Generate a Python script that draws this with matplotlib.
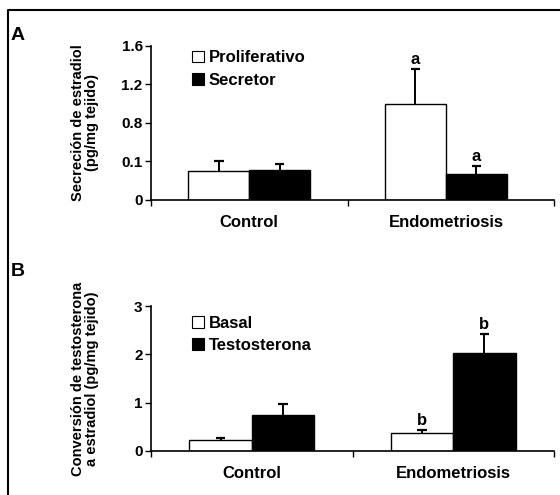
import numpy as np
import matplotlib
matplotlib.use('Agg')
import matplotlib.pyplot as plt
from matplotlib.lines import Line2D
from matplotlib.patches import Patch

plt.rcParams['font.family'] = ['Liberation Sans', 'DejaVu Sans']
plt.rcParams['font.weight'] = 'bold'

groups = ['Control', 'Endometriosis']

# panel A
a_series = ['Proliferativo', 'Secretor']
a_vals = [[0.30, 1.00], [0.31, 0.27]]
a_err = [[0.10, 0.36], [0.06, 0.08]]
a_marks = [['', 'a'], ['', 'a']]
a_ticks = [0, 0.4, 0.8, 1.2, 1.6]
a_ticklabels = ['0', '0.1', '0.8', '1.2', '1.6']

# panel B
b_series = ['Basal', 'Testosterona']
b_vals = [[0.23, 0.37], [0.75, 2.03]]
b_err = [[0.03, 0.06], [0.22, 0.39]]
b_marks = [['', 'b'], ['', 'b']]
b_ticks = [0, 1, 2, 3]

fig = plt.figure(figsize=(5.6, 4.95), dpi=100)

def panel(rect, series, vals, errs, marks, ticks, ticklabels, ylim, xright, ylabel, legpos):
    ax = fig.add_axes(rect)
    x = np.arange(len(groups))
    w = 0.31
    colors = ['white', 'black']
    for i in range(len(series)):
        xs = x + (i - 0.5) * w
        top = np.array(vals[i]) + np.array(errs[i])
        ax.vlines(xs, vals[i], top, color='black', linewidth=1.4, zorder=1)
        ax.hlines(top, xs - 0.024, xs + 0.024, color='black', linewidth=1.6, zorder=1)
        ax.bar(xs, vals[i], w, color=colors[i], edgecolor='black', linewidth=1, label=series[i], zorder=2)
        for j in range(len(groups)):
            if marks[i][j]:
                ax.text(xs[j], top[j] + ylim * 0.015, marks[i][j],
                        ha='center', va='bottom', fontsize=12, fontweight='bold')
    ax.set_xlim(-0.5, xright)
    ax.set_ylim(0, ylim)
    ax.set_yticks(ticks)
    ax.set_yticklabels(ticklabels, fontsize=11, fontweight='bold')
    ax.set_xticks([-0.5, 0.5, xright])
    ax.set_xticklabels([])
    ax.tick_params(axis='x', direction='out', length=4, width=1)
    ax.tick_params(axis='y', direction='out', length=4, width=1, pad=2)
    for s in ['top', 'right']:
        ax.spines[s].set_visible(False)
    for s in ['left', 'bottom']:
        ax.spines[s].set_linewidth(1.2)
    for j, g in enumerate(groups):
        ax.text(x[j], -ylim * 0.1, g, ha='center', va='top', fontsize=12, fontweight='bold',
                transform=ax.transData, clip_on=False)
    ax.set_ylabel(ylabel, fontsize=10.5, fontweight='bold', linespacing=1.0)
    ax.yaxis.set_label_coords(-0.13, 0.5)
    handles = [Patch(facecolor=c, edgecolor='black', linewidth=0.8) for c in colors]
    ax.legend(handles, series, loc='upper left', bbox_to_anchor=legpos, frameon=False,
              handlelength=0.7, handleheight=0.7, handletextpad=0.3,
              labelspacing=0.45, borderaxespad=0, prop={'weight': 'bold', 'size': 12})
    return ax

panel([151/560, 1 - 200/495, 403/560, 154/495], a_series, a_vals, a_err, a_marks,
      a_ticks, a_ticklabels, 1.6, 1.55,
      'Secreción de estradiol\n(pg/mg tejido)', (0.085, 1.015))
panel([151/560, 1 - 451/495, 403/560, 145/495], b_series, b_vals, b_err, b_marks,
      b_ticks, [str(t) for t in b_ticks], 3, 1.5,
      'Conversión de testosterona\na estradiol (pg/mg tejido)', (0.085, 0.98))

fig.text(11/560, 1 - 35/495, 'A', fontsize=14, fontweight='bold', va='center')
fig.text(11/560, 1 - 272/495, 'B', fontsize=14, fontweight='bold', va='center')

# frame
fig.add_artist(Line2D([8/560, 8/560, 1.0], [0.0, 1 - 10/495, 1 - 10/495],
                      transform=fig.transFigure, color='black', linewidth=1.5))

fig.savefig('out.png', dpi=100)
